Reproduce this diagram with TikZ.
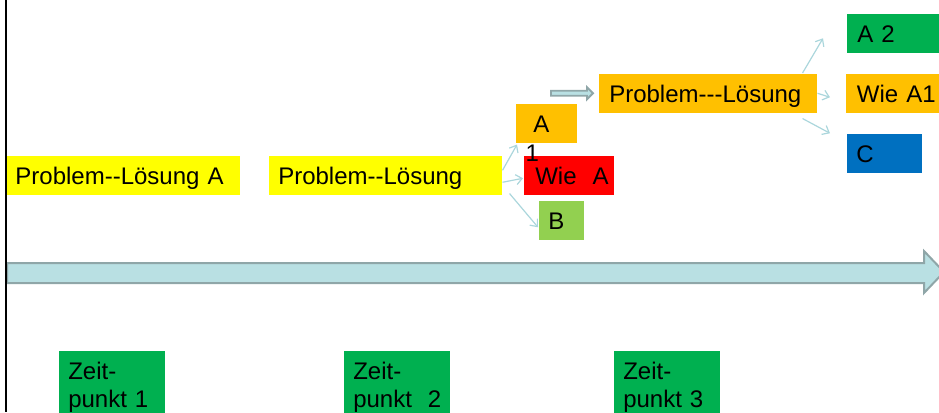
\documentclass[tikz,border=0pt]{standalone}
\usepackage{fontspec}
\newfontfamily\labfont{Liberation Sans}
\usetikzlibrary{arrows.meta,calc}
\setlength\parindent{0pt}
\definecolor{cyel}{HTML}{FFFF00}
\definecolor{corg}{HTML}{FFC000}
\definecolor{cred}{HTML}{FF0000}
\definecolor{clgr}{HTML}{92D050}
\definecolor{cgrn}{HTML}{00B050}
\definecolor{cblu}{HTML}{0070C0}
\definecolor{tlfill}{HTML}{B9E0E3}
\definecolor{tlline}{HTML}{8FA6A8}
\definecolor{connc}{HTML}{ABD6DC}
\begin{document}
\begin{tikzpicture}[x=0.75pt,y=-0.75pt,
  lab/.style={font=\labfont\fontsize{18pt}{21pt}\selectfont, text=black},
  box/.style 2 args={lab, anchor=north west, inner xsep=#1, text width=#2,
    inner ysep=7.5pt, text height=13.5pt, text depth=0.75pt, align=left},
  zeit/.style={lab, anchor=north west, fill=cgrn, inner xsep=6.75pt,
    text width=66pt, inner ysep=7.5pt, align=left},
  conn/.style={draw=connc, line width=0.9pt,
    -{Straight Barb[length=4.5pt,width=7.5pt]}},
  tl/.style={fill=tlfill, draw=tlline, line width=1.5pt, line join=miter}]
\useasboundingbox (0,0) rectangle (939,412);
\clip (0,0) rectangle (939,412);

% timeline
\draw[tl] (7,263) -- (924,263) -- (924,251) -- (944,272) -- (924,293)
  -- (924,283) -- (7,283) -- cycle;

% boxes
\node[box={6.15pt}{162.45pt}, fill=cyel] (pla) at (7,156) {\mbox{Problem-\kern0pt-Lösung A}};
\node[box={6.75pt}{161.25pt}, fill=cyel] (pl) at (269,156) {\mbox{Problem-\kern0pt-Lösung}};
\node[box={12.75pt}{20.25pt}, fill=corg] (a) at (516,104) {A};
\node[box={8.25pt}{51pt}, fill=cred] (wie) at (524,156) {\mbox{Wie\ \ A}};
\node[box={6.75pt}{20.25pt}, fill=clgr] (b) at (539,201) {B};
\node[lab, anchor=base west, inner sep=0pt] (a1) at (525.4,161) {1};
\node[box={7.5pt}{148.5pt}, fill=corg] (pl3) at (599,74) {\mbox{Problem-\kern0pt-\kern0pt-Lösung}};
\node[box={7.5pt}{67.5pt}, fill=cgrn] (a2) at (847,14) {A 2};
\node[box={8pt}{66.5pt}, fill=corg] (wa1) at (846,74) {\mbox{Wie A1}};
\node[box={6.75pt}{42.75pt}, fill=cblu] (c) at (847,134) {C};

% time points
\node[zeit] (z1) at (59,351) {\rule{0pt}{13.5pt}Zeit-\\punkt 1};
\node[zeit] (z2) at (344,351) {\rule{0pt}{13.5pt}Zeit-\\\mbox{punkt\ \ 2}};
\node[zeit] (z3) at (614,351) {\rule{0pt}{13.5pt}Zeit-\\punkt 3};

% connectors
\draw[conn] ($(pl.east)+(0,-5.5)$) -- ($(a.south west)+(1,1)$);
\draw[conn] ($(pl.east)+(0,6.5)$) -- ($(wie.west)+(-1,2.5)$);
\draw[conn] ($(pl.south east)+(7,-2)$) -- ($(b.west)+(-1,6.5)$);
\draw[conn] ($(pl3.north east)+(-15,-1)$) -- ($(a2.west)+(-24,4.5)$);
\draw[conn] ($(pl3.east)+(0,-0.5)$) -- ($(wa1.west)+(-16,3.5)$);
\draw[conn] ($(pl3.south east)+(-15,5)$) -- ($(c.west)+(-17,-20.5)$);

% small block arrow
\coordinate (dtip) at ($(pl3.west)+(-6,-0.5)$);
\draw[tl, line width=1.4pt] ($(dtip)+(-42,-2.5)$) -- ($(dtip)+(-6,-2.5)$)
  -- ($(dtip)+(-6,-6)$) -- (dtip) -- ($(dtip)+(-6,6)$) -- ($(dtip)+(-6,2.5)$)
  -- ($(dtip)+(-42,2.5)$) -- cycle;

% left border line
\coordinate (lt) at (5.5,0);
\coordinate (lb) at (5.5,412);
\draw[black, line width=1.5pt] (lt) -- (lb);
\end{tikzpicture}
\end{document}
